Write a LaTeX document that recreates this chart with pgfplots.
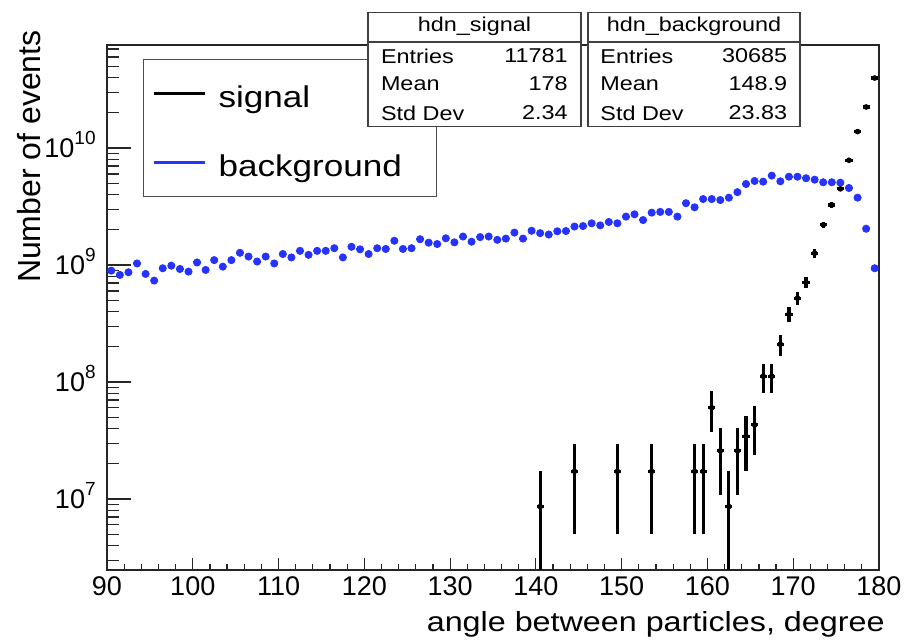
\documentclass[border=0pt]{standalone}
\usepackage{pgfplots}
\pgfplotsset{compat=1.18}
\usepackage{pgfplotstable}
\usepackage{fontspec}
\setmainfont[FakeStretch=1.17]{Liberation Sans}
\newfontfamily\plainfont{Liberation Sans}
\definecolor{rootblue}{rgb}{0.15,0.2,1}
\newcommand{\tp}[1]{10\raisebox{0.5em}{\fontsize{9.5}{10}\selectfont #1}}

\pgfplotstableread{
x y ep em
140.5 8.6e6 8.6e6 8.55e6
144.5 1.72e7 1.216e7 1.216e7
149.5 1.72e7 1.216e7 1.216e7
153.5 1.72e7 1.216e7 1.216e7
158.5 1.72e7 1.216e7 1.216e7
159.5 1.72e7 1.216e7 1.216e7
160.5 6.02e7 2.275e7 2.275e7
161.5 2.58e7 1.49e7 1.49e7
162.5 8.6e6 8.6e6 8.55e6
163.5 2.58e7 1.49e7 1.49e7
164.5 3.44e7 1.72e7 1.72e7
165.5 4.3e7 1.923e7 1.923e7
166.5 1.12e8 3.1e7 3.1e7
167.5 1.12e8 3.1e7 3.1e7
168.5 2.1e8 4.29e7 4.29e7
169.5 3.8e8 5.73e7 5.73e7
170.5 5.2e8 6.71e7 6.71e7
171.5 7.1e8 7.79e7 7.79e7
172.5 1.26e9 1.04e8 1.04e8
173.5 2.2e9 1.375e8 1.375e8
174.5 3.26e9 1.67e8 1.67e8
175.5 4.47e9 1.96e8 1.96e8
176.5 7.85e9 2.6e8 2.6e8
177.5 1.38e10 3.44e8 3.44e8
178.5 2.24e10 4.39e8 4.39e8
179.5 3.96e10 5.84e8 5.84e8
}\signaltab

\pgfplotstableread{
x y
90.5 8.94e8
91.5 8.22e8
92.5 8.66e8
93.5 1.03e9
94.5 8.38e8
95.5 7.35e8
96.5 9.37e8
97.5 9.86e8
98.5 9.24e8
99.5 8.77e8
100.5 1.05e9
101.5 9.06e8
102.5 1.10e9
103.5 9.67e8
104.5 1.10e9
105.5 1.27e9
106.5 1.18e9
107.5 1.07e9
108.5 1.18e9
109.5 1.03e9
110.5 1.24e9
111.5 1.16e9
112.5 1.32e9
113.5 1.22e9
114.5 1.32e9
115.5 1.32e9
116.5 1.39e9
117.5 1.16e9
118.5 1.43e9
119.5 1.36e9
120.5 1.24e9
121.5 1.39e9
122.5 1.37e9
123.5 1.61e9
124.5 1.37e9
125.5 1.39e9
126.5 1.66e9
127.5 1.55e9
128.5 1.51e9
129.5 1.69e9
130.5 1.56e9
131.5 1.75e9
132.5 1.58e9
133.5 1.73e9
134.5 1.75e9
135.5 1.64e9
136.5 1.68e9
137.5 1.89e9
138.5 1.68e9
139.5 1.96e9
140.5 1.87e9
141.5 1.82e9
142.5 1.94e9
143.5 1.95e9
144.5 2.13e9
145.5 2.15e9
146.5 2.27e9
147.5 2.18e9
148.5 2.33e9
149.5 2.27e9
150.5 2.59e9
151.5 2.71e9
152.5 2.42e9
153.5 2.80e9
154.5 2.84e9
155.5 2.84e9
156.5 2.59e9
157.5 3.37e9
158.5 3.11e9
159.5 3.66e9
160.5 3.66e9
161.5 3.59e9
162.5 3.76e9
163.5 4.19e9
164.5 4.92e9
165.5 5.22e9
166.5 5.15e9
167.5 5.80e9
168.5 5.19e9
169.5 5.68e9
170.5 5.68e9
171.5 5.51e9
172.5 5.36e9
173.5 5.09e9
174.5 5.09e9
175.5 5.05e9
176.5 4.55e9
177.5 3.76e9
178.5 2.04e9
179.5 9.37e8
}\bkgtab

\begin{document}
\begin{tikzpicture}
\useasboundingbox (-53.5pt,-35.5pt) rectangle (399pt,285pt);
\begin{axis}[
  at={(0pt,0pt)}, anchor=south west, scale only axis,
  width=386pt, height=262.5pt,
  ymode=log, xmin=90, xmax=180, ymin=2.47e6, ymax=7.59e10,
  axis line style={black!85, line width=0.75pt},
  tick align=inside, xtick pos=bottom, ytick pos=left,
  xtick={90,100,...,180},
  xticklabels={90,100,110,120,130,140,150,160,170,180},
  minor xtick={92,94,96,98,102,104,106,108,112,114,116,118,122,124,126,128,132,134,136,138,142,144,146,148,152,154,156,158,162,164,166,168,172,174,176,178},
  ytick={1e7,1e8,1e9,1e10},
  yticklabels={\tp{7},\tp{8},\tp{9},\tp{10}},
  minor ytick={3e6,4e6,5e6,6e6,7e6,8e6,9e6,2e7,3e7,4e7,5e7,6e7,7e7,8e7,9e7,2e8,3e8,4e8,5e8,6e8,7e8,8e8,9e8,2e9,3e9,4e9,5e9,6e9,7e9,8e9,9e9,2e10,3e10,4e10,5e10,6e10,7e10},
  xtick style={black!85, line width=0.6pt, /pgfplots/major tick length=6pt, /pgfplots/minor tick length=3pt},
  ytick style={black!85, line width=0.6pt, /pgfplots/major tick length=12pt, /pgfplots/minor tick length=6pt},
  tick label style={font=\plainfont\fontsize{13.5}{16}\selectfont},
  xticklabel style={inner sep=0pt, yshift=-3pt},
  yticklabel style={anchor=base east, inner sep=0pt, xshift=-5.5pt, yshift=-5pt},
  xlabel={angle between particles, degree},
  xlabel style={at={(axis description cs:1.0078,-0.118)}, anchor=base east, inner sep=0pt, font=\fontsize{13.8}{16}\selectfont},
  ylabel={Number of events},
  ylabel style={at={(axis description cs:-0.1166,1.0286)}, anchor=north east, inner sep=0pt, font=\plainfont\fontsize{16}{18}\selectfont},
  clip marker paths=true,
  legend style={at={(axis description cs:0.0466,0.9733)}, anchor=north west,
    draw=black!70, line width=0.6pt, fill=white,
    inner xsep=4.5pt, inner ysep=10pt, row sep=20.5pt, column sep=6pt,
    nodes={inner sep=0pt, text depth=0pt, text height=14pt},
    font=\fontsize{15}{17}\selectfont},
  legend cell align=left,
  legend image code/.code={\draw[#1] (0pt,0pt) -- (25.5pt,0pt);},
]
\addlegendimage{black, line width=1.5pt}
\addlegendentry{\makebox[104.5pt][l]{signal}}
\addlegendimage{rootblue, line width=1.5pt}
\addlegendentry{\makebox[104.5pt][l]{background}}

\addplot[forget plot, only marks, mark=*, mark size=1.8pt, color=rootblue,
  error bars/.cd, x dir=both, x fixed=0.42, error mark=none,
  error bar style={line width=1pt, rootblue}]
  table[x=x, y=y] {\bkgtab};

\addplot[forget plot, only marks, mark=*, mark size=1.2pt, color=black,
  error bars/.cd, x dir=both, x fixed=0.42, y dir=both, y explicit, error mark=none,
  error bar style={line width=1.6pt, black}]
  table[x=x, y=y, y error plus=ep, y error minus=em] {\signaltab};
\end{axis}

\begin{scope}[font=\fontsize{10}{12}\selectfont]
\draw[black!75, line width=0.8pt, fill=white] (130.5pt,221.65pt) rectangle (237pt,278.65pt);
\draw[black!75, line width=0.8pt] (130.5pt,264pt) -- (237pt,264pt);
\node at (183.75pt,271.6pt) {hdn\_signal};
\node[anchor=west, inner sep=0pt] at (136.8pt,257pt) {Entries};
\node[anchor=west, inner sep=0pt] at (136.8pt,243pt) {Mean};
\node[anchor=west, inner sep=0pt] at (136.8pt,228.5pt) {Std Dev};
\node[anchor=east, inner sep=0pt] at (230.5pt,257pt) {11781};
\node[anchor=east, inner sep=0pt] at (230.5pt,243pt) {178};
\node[anchor=east, inner sep=0pt] at (230.5pt,228.5pt) {2.34};

\draw[black!75, line width=0.8pt, fill=white] (240.5pt,221.65pt) rectangle (346.5pt,278.65pt);
\draw[black!75, line width=0.8pt] (240.5pt,264pt) -- (346.5pt,264pt);
\node at (293.5pt,271.6pt) {hdn\_background};
\node[anchor=west, inner sep=0pt] at (246.5pt,257pt) {Entries};
\node[anchor=west, inner sep=0pt] at (246.5pt,243pt) {Mean};
\node[anchor=west, inner sep=0pt] at (246.5pt,228.5pt) {Std Dev};
\node[anchor=east, inner sep=0pt] at (340.3pt,257pt) {30685};
\node[anchor=east, inner sep=0pt] at (340.3pt,243pt) {148.9};
\node[anchor=east, inner sep=0pt] at (340.3pt,228.5pt) {23.83};
\end{scope}
\end{tikzpicture}
\end{document}
